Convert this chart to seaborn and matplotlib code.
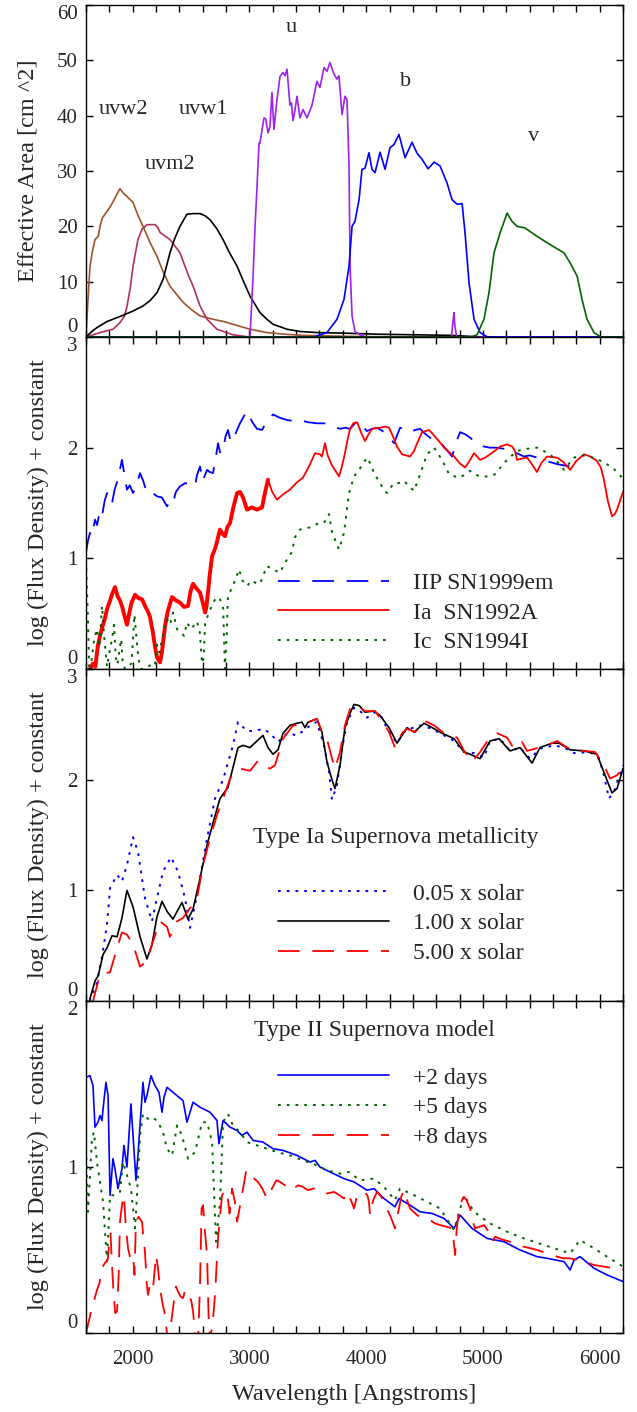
import numpy as np
import pandas as pd
import matplotlib
matplotlib.use("Agg")
import matplotlib.pyplot as plt
from matplotlib.ticker import NullFormatter
import seaborn as sns

# ---------------- data : panel 1 (effective area, cm^2) ----------------
uvw2_wl = [1600, 1615, 1634, 1655, 1677, 1705, 1720, 1740, 1763, 1800, 1831, 1860, 1891, 1920, 1951, 2003, 2045, 2088,
           2150, 2208, 2260, 2319, 2380, 2431, 2500, 2577, 2688, 2780, 2859, 2940, 3005, 3080, 3150, 3300, 3450, 3650, 3900, 4300, 6200]
uvw2_area = [0.0, 6.0, 12.7, 15.5, 17.6, 18.2, 20.0, 21.5, 22.2, 23.3, 24.4, 25.6, 26.8, 26.0, 25.4, 24.3, 22.0, 20.0,
             17.0, 14.6, 11.8, 9.2, 7.6, 6.3, 5.0, 3.8, 3.2, 2.8, 2.3, 1.8, 1.4, 1.1, 0.8, 0.5, 0.3, 0.2, 0.1, 0.0, 0.0]

uvm2_wl = [1600, 1720, 1831, 1891, 1930, 1951, 1980, 2003, 2045, 2080, 2122, 2191, 2215, 2234, 2280, 2319, 2360, 2405,
           2448, 2480, 2517, 2577, 2637, 2722, 2859, 3000, 6200]
uvm2_area = [0.0, 0.8, 1.4, 2.6, 3.8, 5.5, 9.0, 12.8, 17.6, 19.5, 20.3, 20.3, 19.8, 18.9, 18.2, 17.6, 16.5, 15.2,
             12.8, 11.0, 9.2, 5.6, 3.2, 1.4, 0.4, 0.0, 0.0]

uvw1_wl = [1600, 1650, 1694, 1780, 1891, 2003, 2088, 2150, 2208, 2260, 2319, 2360, 2405, 2465, 2520, 2577, 2620, 2662,
           2720, 2774, 2830, 2894, 2950, 3005, 3091, 3150, 3202, 3322, 3433, 3578, 3800, 4100, 4400, 4720, 5000, 6200]
uvw1_area = [0.0, 1.0, 1.7, 2.8, 3.7, 4.7, 5.6, 6.6, 8.0, 10.4, 15.2, 17.8, 20.0, 22.2, 22.3, 22.3, 21.9, 21.2,
             19.6, 17.6, 15.2, 12.8, 10.0, 7.4, 4.4, 3.2, 2.3, 1.4, 1.0, 0.8, 0.7, 0.5, 0.4, 0.3, 0.0, 0.0]

u_wl = [1600, 2990, 3005, 3031, 3048, 3065, 3082, 3090, 3108, 3125, 3140, 3159, 3176, 3193, 3210, 3236, 3262, 3288, 3305,
        3322, 3347, 3360, 3373, 3390, 3407, 3433, 3459, 3493, 3536, 3578, 3604, 3639, 3664, 3690, 3724, 3750, 3767,
        3793, 3818, 3836, 3853, 3862, 3879, 3904, 3947, 4000, 4730, 4745, 4752, 4760, 4775, 6200]
u_area = [0.0, 0.0, 0.0, 11.0, 20.0, 27.2, 35.0, 35.0, 37.5, 39.6, 39.4, 36.9, 38.0, 44.2, 37.5, 42.9, 47.1, 47.8, 47.2,
          48.4, 41.9, 42.3, 39.1, 41.0, 43.5, 39.6, 41.1, 39.6, 41.9, 46.2, 45.1, 48.7, 48.0, 49.6, 47.5, 46.6, 47.2,
          40.2, 43.5, 42.9, 30.9, 12.8, 3.8, 1.0, 0.4, 0.0, 0.0, 3.0, 4.4, 2.0, 0.0, 0.0]

b_wl = [1600, 3550, 3664, 3750, 3810, 3853, 3879, 3904, 3939, 3964, 3990, 4024, 4050, 4076, 4119, 4162, 4204, 4239, 4281,
        4333, 4393, 4436, 4479, 4530, 4582, 4633, 4693, 4736, 4779, 4822, 4847, 4881, 4924, 4976, 5040, 6200]
b_area = [0.0, 0.0, 0.8, 3.2, 6.8, 12.8, 20.0, 20.9, 24.8, 30.3, 30.5, 33.3, 30.3, 29.7, 33.4, 30.3, 34.2, 34.8, 36.6,
          32.4, 35.2, 33.2, 32.1, 30.4, 31.6, 30.9, 27.8, 24.8, 24.0, 24.1, 18.8, 9.8, 3.2, 0.8, 0.0, 0.0]

v_wl = [1600, 4900, 4950, 5009, 5052, 5095, 5147, 5207, 5249, 5292, 5361, 5463, 5575, 5695, 5747, 5807, 5849, 5892, 5952, 6010, 6200]
v_area = [0.0, 0.0, 0.4, 3.2, 8.0, 15.2, 18.8, 22.4, 20.9, 20.0, 19.7, 18.2, 16.7, 15.2, 13.4, 11.0, 6.8, 3.2, 0.8, 0.0, 0.0]

filter_names = ["uvw2", "uvm2", "uvw1", "u", "b", "v"]
filter_label_wl = [1917, 2320, 2602, 3356, 4341, 5438]
filter_label_area = [41.1, 31.2, 41.1, 56.0, 46.2, 36.3]

# ---------------- data : panel 2 (observed spectra) ----------------
iip_wl = [1600, 1615, 1634, 1650, 1677, 1695, 1720, 1740, 1760, 1780, 1800, 1823, 1845, 1866, 1890, 1908, 1930, 1951,
          1975, 2003, 2030, 2063, 2090, 2122, 2160, 2208, 2250, 2294, 2320, 2345, 2370, 2405, 2450, 2491, 2534, 2550,
          2577, 2600, 2637, 2660, 2688, 2710, 2731, 2750, 2774, 2795, 2816, 2840, 2859, 2890, 2919, 2950, 2979, 3000,
          3031, 3065, 3108, 3150, 3202, 3260, 3322, 3380, 3433, 3500, 3578, 3640, 3690, 3730, 3776, 3820, 3862, 3922,
          3960, 4007, 4050, 4093, 4140, 4179, 4239, 4290, 4330, 4376, 4420, 4462, 4500, 4547, 4590, 4633, 4690, 4736,
          4770, 4805, 4850, 4890, 4950, 5009, 5060, 5121, 5180, 5232, 5290, 5352, 5400, 5463, 5520, 5575, 5640, 5695, 5747]
iip_flux = [1.05, 1.15, 1.23, 1.20, 1.35, 1.30, 1.44, 1.40, 1.52, 1.59, 1.50, 1.50, 1.62, 1.69, 1.80, 1.89, 1.75, 1.62,
            1.66, 1.59, 1.65, 1.77, 1.70, 1.59, 1.60, 1.56, 1.55, 1.47, 1.52, 1.50, 1.60, 1.65, 1.68, 1.67, 1.65, 1.75,
            1.83, 1.70, 1.80, 1.78, 1.77, 1.90, 2.04, 1.95, 1.98, 2.10, 2.16, 2.05, 2.07, 2.15, 2.22, 2.28, 2.33, 2.28,
            2.22, 2.17, 2.16, 2.24, 2.30, 2.27, 2.25, 2.24, 2.25, 2.23, 2.22, 2.22, 2.21, 2.19, 2.17, 2.18, 2.17, 2.24,
            2.20, 2.15, 2.17, 2.18, 2.15, 2.12, 2.04, 2.18, 2.17, 2.14, 2.16, 2.17, 2.13, 2.09, 2.08, 2.05, 1.98, 1.92,
            2.05, 2.14, 2.12, 2.09, 2.04, 2.01, 2.00, 2.00, 1.99, 1.98, 1.95, 1.92, 1.93, 1.91, 1.89, 1.87, 1.85, 1.84, 1.83]

ia_wl = [1620, 1634, 1660, 1680, 1700, 1720, 1740, 1760, 1780, 1800, 1825, 1848, 1870, 1890, 1908, 1930, 1951, 1970,
         1990, 2020, 2050, 2080, 2110, 2130, 2148, 2170, 2191, 2210, 2234, 2250, 2277, 2300, 2337, 2370, 2405, 2440,
         2474, 2495, 2517, 2545, 2577, 2600, 2620, 2630, 2645, 2660, 2680, 2710, 2748, 2770, 2791, 2810, 2834, 2860,
         2894, 2919, 2945, 2979, 3020, 3065, 3108, 3135, 3159, 3195, 3236, 3290, 3347, 3400, 3459, 3510, 3562, 3604,
         3621, 3647, 3670, 3707, 3767, 3790, 3818, 3840, 3862, 3890, 3922, 3955, 3990, 4020, 4050, 4119, 4160, 4196,
         4230, 4264, 4307, 4340, 4376, 4410, 4436, 4479, 4539, 4590, 4630, 4667, 4710, 4753, 4800, 4847, 4885, 4924,
         4950, 4976, 5020, 5061, 5100, 5147, 5207, 5250, 5275, 5292, 5330, 5378, 5420, 5463, 5500, 5549, 5635, 5690,
         5747, 5800, 5866, 5920, 5977, 6010, 6037, 6070, 6106, 6130, 6149, 6200]
ia_flux = [-0.10, 0.00, 0.05, 0.02, 0.20, 0.30, 0.38, 0.45, 0.54, 0.60, 0.68, 0.74, 0.66, 0.62, 0.57, 0.48, 0.40, 0.50,
           0.60, 0.67, 0.64, 0.63, 0.56, 0.52, 0.47, 0.35, 0.20, 0.10, 0.06, 0.15, 0.39, 0.52, 0.65, 0.62, 0.60, 0.56,
           0.57, 0.70, 0.77, 0.73, 0.69, 0.60, 0.51, 0.55, 0.69, 0.85, 1.02, 1.10, 1.26, 1.22, 1.20, 1.28, 1.32, 1.45,
           1.59, 1.60, 1.55, 1.44, 1.46, 1.44, 1.46, 1.60, 1.71, 1.60, 1.53, 1.58, 1.62, 1.68, 1.73, 1.83, 1.95, 1.94,
           1.92, 2.04, 1.93, 1.84, 1.74, 1.82, 1.95, 2.07, 2.17, 2.22, 2.23, 2.14, 2.06, 2.12, 2.17, 2.18, 2.19, 2.18,
           2.10, 2.01, 1.94, 1.93, 1.92, 1.97, 2.04, 2.14, 2.16, 2.10, 2.05, 2.00, 1.96, 1.92, 1.86, 1.82, 1.88, 1.95,
           1.92, 1.89, 1.91, 1.94, 1.97, 2.01, 2.03, 2.01, 1.97, 1.89, 1.90, 1.91, 1.85, 1.78, 1.86, 1.92, 1.91, 1.87,
           1.80, 1.88, 1.94, 1.92, 1.88, 1.82, 1.71, 1.52, 1.38, 1.40, 1.44, 1.60]

ic_wl = [1600, 1615, 1630, 1650, 1670, 1694, 1715, 1737, 1755, 1780, 1800, 1823, 1840, 1855, 1870, 1890, 1902, 1915,
         1935, 1960, 1990, 2015, 2035, 2050, 2070, 2100, 2130, 2160, 2190, 2208, 2230, 2251, 2270, 2294, 2320, 2345,
         2380, 2410, 2440, 2465, 2500, 2530, 2551, 2575, 2594, 2608, 2620, 2650, 2688, 2720, 2748, 2775, 2790, 2805,
         2816, 2859, 2911, 2940, 2979, 3020, 3050, 3091, 3120, 3150, 3202, 3262, 3300, 3322, 3365, 3390, 3433, 3480,
         3519, 3578, 3639, 3682, 3707, 3740, 3767, 3810, 3853, 3896, 3939, 4007, 4040, 4067, 4119, 4150, 4179, 4210,
         4239, 4280, 4324, 4370, 4410, 4462, 4522, 4582, 4650, 4710, 4760, 4805, 4850, 4890, 4930, 4976, 5040, 5104,
         5150, 5207, 5292, 5380, 5463, 5520, 5575, 5640, 5695, 5740, 5781, 5850, 5918, 5990, 6063, 6130, 6200]
ic_flux = [0.99, 0.50, -0.10, 0.10, 0.27, 0.36, 0.20, 0.57, 0.30, 0.02, 0.15, 0.27, 0.40, 0.10, 0.04, 0.20, 0.27, 0.05,
           0.00, 0.02, 0.05, 0.49, 0.25, 0.09, 0.00, 0.00, 0.02, 0.04, 0.03, 0.22, 0.15, 0.27, 0.35, 0.45, 0.40, 0.51,
           0.36, 0.33, 0.30, 0.42, 0.36, 0.40, 0.43, 0.33, 0.05, 0.10, 0.42, 0.50, 0.60, 0.65, 0.63, 0.55, 0.00, 0.30,
           0.66, 0.75, 0.90, 0.80, 0.75, 0.80, 0.78, 0.77, 0.85, 0.93, 0.90, 0.87, 0.95, 0.99, 1.06, 1.19, 1.26, 1.27,
           1.28, 1.31, 1.32, 1.40, 1.24, 1.15, 1.08, 1.23, 1.59, 1.74, 1.80, 1.91, 1.85, 1.77, 1.68, 1.62, 1.59, 1.64,
           1.68, 1.68, 1.70, 1.65, 1.61, 1.76, 1.94, 2.00, 1.89, 1.76, 1.74, 1.73, 1.76, 1.79, 1.76, 1.74, 1.74, 1.76,
           1.82, 1.89, 1.97, 1.99, 2.00, 1.97, 1.94, 1.87, 1.80, 1.86, 1.91, 1.93, 1.92, 1.89, 1.85, 1.80, 1.72]

# ---------------- data : panel 3 (Type Ia metallicity models) ----------------
z005_wl = [1630, 1690, 1737, 1780, 1806, 1866, 1908, 1951, 2003, 2045, 2105, 2165, 2208, 2260, 2328, 2388, 2448, 2491,
           2534, 2577, 2637, 2705, 2774, 2859, 2902, 2979, 3048, 3116, 3176, 3245, 3322, 3407, 3459, 3545, 3578, 3639,
           3682, 3707, 3750, 3793, 3836, 3896, 3947, 4007, 4076, 4136, 4179, 4264, 4324, 4376, 4462, 4565, 4667, 4753,
           4838, 4924, 5009, 5061, 5147, 5232, 5318, 5403, 5489, 5609, 5695, 5781, 5918, 5995, 6037, 6080, 6123, 6200]
z005_flux = [0.00, 0.15, 0.40, 0.69, 1.02, 1.14, 1.08, 1.23, 1.48, 1.35, 0.93, 0.72, 0.93, 1.17, 1.30, 1.17, 0.93, 0.66,
             0.87, 1.11, 1.47, 1.83, 2.00, 2.31, 2.52, 2.44, 2.44, 2.46, 2.42, 2.34, 2.42, 2.40, 2.44, 2.51, 2.52, 2.31,
             2.07, 1.82, 1.95, 2.28, 2.52, 2.65, 2.62, 2.56, 2.61, 2.56, 2.46, 2.33, 2.43, 2.46, 2.49, 2.46, 2.40, 2.35,
             2.25, 2.24, 2.20, 2.35, 2.37, 2.26, 2.29, 2.19, 2.28, 2.31, 2.29, 2.24, 2.25, 2.19, 2.04, 1.83, 1.89, 2.13]

z100_wl = [1634, 1677, 1705, 1746, 1780, 1823, 1866, 1908, 1951, 2003, 2063, 2122, 2165, 2208, 2251, 2294, 2345, 2422,
           2474, 2517, 2577, 2637, 2688, 2748, 2816, 2859, 2902, 2945, 3005, 3065, 3116, 3159, 3202, 3245, 3288, 3347,
           3407, 3450, 3476, 3502, 3578, 3621, 3664, 3707, 3733, 3776, 3818, 3862, 3896, 3939, 3990, 4067, 4119, 4196,
           4264, 4307, 4350, 4410, 4496, 4565, 4650, 4753, 4838, 4890, 4976, 5061, 5138, 5232, 5318, 5421, 5489, 5592,
           5652, 5747, 5866, 5977, 6046, 6106, 6149, 6200]
z100_flux = [0.02, 0.18, 0.23, 0.42, 0.48, 0.59, 0.58, 0.75, 1.00, 0.85, 0.58, 0.38, 0.51, 0.76, 0.90, 0.81, 0.74, 0.89,
             0.74, 0.83, 1.11, 1.41, 1.61, 1.83, 1.93, 2.11, 2.29, 2.31, 2.29, 2.35, 2.40, 2.29, 2.23, 2.27, 2.42, 2.49,
             2.51, 2.52, 2.47, 2.52, 2.55, 2.43, 2.16, 2.00, 1.92, 2.13, 2.47, 2.60, 2.68, 2.67, 2.61, 2.62, 2.58, 2.47,
             2.33, 2.40, 2.47, 2.43, 2.51, 2.47, 2.42, 2.37, 2.25, 2.23, 2.19, 2.35, 2.37, 2.26, 2.29, 2.15, 2.29, 2.33,
             2.33, 2.27, 2.26, 2.23, 2.04, 1.88, 1.92, 2.10]

z500_wl = [1660, 1720, 1806, 1866, 1908, 1951, 2003, 2063, 2122, 2174, 2234, 2294, 2319, 2380, 2431, 2491, 2551, 2603,
           2662, 2722, 2774, 2834, 2919, 3005, 3073, 3116, 3176, 3219, 3288, 3373, 3459, 3578, 3621, 3664, 3707, 3733,
           3776, 3818, 3862, 3922, 3990, 4076, 4136, 4196, 4247, 4307, 4350, 4419, 4505, 4582, 4667, 4779, 4838, 4907,
           4976, 5052, 5121, 5207, 5266, 5335, 5378, 5480, 5549, 5635, 5721, 5866, 5960, 6037, 6089, 6149, 6200]
z500_flux = [0.00, 0.24, 0.26, 0.48, 0.62, 0.60, 0.51, 0.31, 0.36, 0.54, 0.72, 0.67, 0.58, 0.72, 0.75, 0.84, 0.93, 1.23,
             1.47, 1.68, 1.83, 2.01, 2.10, 2.08, 2.17, 2.13, 2.10, 2.13, 2.37, 2.49, 2.50, 2.55, 2.43, 2.37, 2.19, 2.10,
             2.25, 2.49, 2.64, 2.67, 2.62, 2.62, 2.53, 2.43, 2.29, 2.42, 2.46, 2.43, 2.53, 2.49, 2.42, 2.38, 2.26, 2.16,
             2.25, 2.37, 2.42, 2.38, 2.28, 2.34, 2.26, 2.29, 2.31, 2.35, 2.29, 2.26, 2.25, 2.13, 2.01, 2.04, 2.11]

# ---------------- data : panel 4 (Type II model) ----------------
d2_wl = [1600, 1634, 1660, 1677, 1703, 1720, 1737, 1746, 1771, 1789, 1806, 1831, 1848, 1874, 1908, 1925, 1951, 1985,
         2003, 2028, 2045, 2088, 2105, 2122, 2157, 2191, 2225, 2251, 2268, 2294, 2345, 2431, 2465, 2517, 2577, 2662,
         2722, 2739, 2774, 2834, 2894, 2936, 2979, 3031, 3116, 3202, 3288, 3407, 3519, 3562, 3604, 3690, 3810, 3896,
         4007, 4067, 4153, 4247, 4281, 4376, 4462, 4565, 4667, 4753, 4805, 4907, 5035, 5181, 5318, 5463, 5549, 5695,
         5747, 5781, 5832, 5952, 6063, 6200]
d2_flux = [1.54, 1.55, 1.49, 1.24, 1.27, 1.31, 1.28, 1.35, 1.51, 1.43, 0.83, 1.05, 0.99, 0.87, 0.99, 1.13, 1.00, 1.38,
           1.19, 0.92, 1.07, 1.51, 1.39, 1.43, 1.55, 1.49, 1.45, 1.33, 1.42, 1.48, 1.45, 1.40, 1.27, 1.39, 1.36, 1.33,
           1.28, 1.14, 1.28, 1.24, 1.22, 1.19, 1.21, 1.16, 1.15, 1.11, 1.10, 1.07, 1.03, 1.04, 1.00, 0.97, 0.93, 0.91,
           0.86, 0.87, 0.81, 0.76, 0.81, 0.77, 0.73, 0.72, 0.69, 0.63, 0.71, 0.63, 0.57, 0.55, 0.50, 0.46, 0.45, 0.43,
           0.38, 0.44, 0.46, 0.39, 0.35, 0.31]

d5_wl = [1600, 1617, 1651, 1668, 1694, 1720, 1746, 1780, 1806, 1848, 1891, 1917, 1951, 1985, 2020, 2037, 2063, 2088,
         2131, 2174, 2217, 2260, 2294, 2337, 2380, 2422, 2474, 2534, 2594, 2637, 2680, 2714, 2748, 2774, 2816, 2859,
         2919, 2979, 3065, 3150, 3236, 3347, 3459, 3578, 3664, 3776, 3853, 3947, 4067, 4153, 4247, 4290, 4410, 4522,
         4633, 4753, 4838, 4924, 5061, 5207, 5352, 5523, 5747, 5832, 5952, 6063, 6200]
d5_flux = [1.11, 0.73, 1.17, 1.21, 1.03, 0.91, 0.79, 0.43, 0.83, 0.83, 0.85, 1.03, 0.95, 0.87, 0.63, 0.83, 1.19, 1.32,
           1.29, 1.30, 1.27, 1.21, 1.11, 1.07, 1.25, 1.19, 1.05, 1.09, 1.27, 1.27, 1.15, 0.55, 0.79, 1.27, 1.32, 1.25,
           1.21, 1.15, 1.13, 1.11, 1.09, 1.07, 1.04, 1.01, 0.98, 0.96, 0.97, 0.92, 0.93, 0.88, 0.80, 0.87, 0.83, 0.79,
           0.75, 0.62, 0.83, 0.73, 0.66, 0.61, 0.57, 0.53, 0.48, 0.56, 0.51, 0.46, 0.40]

d8_wl = [1600, 1620, 1640, 1660, 1690, 1715, 1737, 1760, 1786, 1800, 1810, 1820, 1835, 1850, 1866, 1880, 1891, 1910,
         1925, 1940, 1960, 1980, 2003, 2015, 2028, 2050, 2080, 2095, 2105, 2120, 2131, 2150, 2174, 2200, 2215, 2234,
         2255, 2277, 2300, 2319, 2345, 2370, 2388, 2410, 2431, 2450, 2474, 2500, 2517, 2540, 2560, 2577, 2590, 2603,
         2620, 2637, 2650, 2663, 2690, 2705, 2731, 2765, 2790, 2808, 2830, 2851, 2876, 2894, 2915, 2936, 2970, 3005,
         3040, 3073, 3110, 3150, 3193, 3230, 3262, 3305, 3340, 3373, 3420, 3459, 3500, 3545, 3578, 3620, 3664, 3724,
         3770, 3810, 3836, 3870, 3896, 3922, 3950, 3981, 4010, 4024, 4033, 4060, 4093, 4130, 4162, 4210, 4247, 4265,
         4281, 4300, 4324, 4350, 4376, 4436, 4490, 4547, 4590, 4633, 4690, 4736, 4750, 4762, 4775, 4796, 4820, 4838,
         4860, 4890, 4910, 4933, 4970, 5009, 5040, 5078, 5105, 5138, 5180, 5232, 5290, 5352, 5410, 5463, 5550, 5635,
         5690, 5747, 5800, 5866, 5950, 6037, 6120, 6200]
d8_flux = [0.00, 0.06, 0.12, 0.17, 0.25, 0.30, 0.39, 0.42, 0.44, 0.55, 0.60, 0.45, 0.25, 0.12, 0.13, 0.35, 0.67, 0.78,
           0.83, 0.65, 0.51, 0.45, 0.47, 0.35, 0.67, 0.70, 0.67, 0.55, 0.49, 0.30, 0.23, 0.30, 0.27, 0.47, 0.40, 0.27,
           0.18, 0.11, -0.05, 0.00, 0.15, 0.28, 0.25, 0.22, 0.21, 0.26, 0.22, 0.20, 0.13, -0.05, -0.05, 0.30, 0.75, 0.77,
           0.60, 0.47, 0.10, -0.05, 0.10, 0.23, 0.57, 0.83, 0.86, 0.85, 0.72, 0.87, 0.79, 0.67, 0.75, 0.83, 0.97, 0.92,
           0.93, 0.91, 0.87, 0.81, 0.87, 0.92, 0.91, 0.89, 0.86, 0.87, 0.89, 0.88, 0.86, 0.87, 0.87, 0.86, 0.84, 0.85,
           0.83, 0.81, 0.85, 0.80, 0.75, 0.83, 0.84, 0.85, 0.83, 0.79, 0.71, 0.80, 0.85, 0.82, 0.77, 0.70, 0.63, 0.70,
           0.75, 0.82, 0.86, 0.80, 0.75, 0.71, 0.69, 0.68, 0.66, 0.65, 0.64, 0.63, 0.55, 0.47, 0.62, 0.75, 0.80, 0.82,
           0.80, 0.75, 0.68, 0.63, 0.64, 0.65, 0.62, 0.55, 0.58, 0.57, 0.56, 0.55, 0.53, 0.52, 0.51, 0.50, 0.48, 0.46,
           0.45, 0.45, 0.44, 0.43, 0.41, 0.40, 0.39, 0.38]

x_ticks = [2000, 3000, 4000, 5000, 6000]

# ---------------- style ----------------
sns.set_style("ticks")
TXT = "#262626"
plt.rcParams["font.family"] = ["Liberation Serif", "DejaVu Serif"]
plt.rcParams["text.color"] = TXT
plt.rcParams["axes.labelcolor"] = TXT
plt.rcParams["xtick.color"] = "black"
plt.rcParams["ytick.color"] = "black"
plt.rcParams["xtick.labelcolor"] = TXT
plt.rcParams["ytick.labelcolor"] = TXT
plt.rcParams["axes.edgecolor"] = "black"
plt.rcParams["axes.linewidth"] = 1.0

TICK_FS = 15
LAB_FS = 17.5
LEG_FS = 17

fig = plt.figure(figsize=(6.37, 14.12), dpi=100)
gs = fig.add_gridspec(4, 1, left=86/637, right=623/637, top=1 - 5/1412, bottom=(1412 - 1333)/1412, hspace=0)
axes = [fig.add_subplot(gs[i]) for i in range(4)]

DASH = (0, (12, 7))
DOT = (0, (1.4, 3.1))
LEG_KW = dict(loc="upper left", frameon=False, fontsize=LEG_FS, handlelength=4.7, handletextpad=1.0,
              labelspacing=0.35, borderpad=0, borderaxespad=0)


def draw(ax, x, y, color, ls="-", lw=1.2, label=None):
    df = pd.DataFrame({"wl": x, "val": y})
    sns.lineplot(data=df, x="wl", y="val", ax=ax, color=color, linestyle=ls, linewidth=lw,
                 label=label, sort=False, estimator=None, legend=False if label is None else "auto")


# panel 1
ax = axes[0]
for wl, area, col in [(uvw2_wl, uvw2_area, "#a0522d"), (uvm2_wl, uvm2_area, "#b03060"),
                      (uvw1_wl, uvw1_area, "black"), (u_wl, u_area, "#a020f0"),
                      (b_wl, b_area, "#0000ff"), (v_wl, v_area, "#006400")]:
    draw(ax, wl, area, col, lw=1.2)
for name, lx, ly in zip(filter_names, filter_label_wl, filter_label_area):
    ax.text(lx, ly, name, ha="center", va="center", fontsize=16, color=TXT)
ax.set_ylim(0, 60)
ax.set_yticks(range(0, 61, 10))
ax.set_ylabel("Effective Area [cm ^2]", fontsize=LAB_FS, labelpad=13)

# panel 2
ax = axes[1]
draw(ax, iip_wl, iip_flux, "#0000ff", DASH, 1.3, "IIP SN1999em")
draw(ax, ia_wl, ia_flux, "#ff0000", "-", 1.3, "Ia  SN1992A")
ia_df = pd.DataFrame({"wl": ia_wl, "val": ia_flux})
noisy = ia_df[ia_df["wl"] <= 3170]
sns.lineplot(data=noisy, x="wl", y="val", ax=ax, color="#ff0000", linewidth=2.8, sort=False,
             estimator=None, legend=False)
draw(ax, ic_wl, ic_flux, "#006400", DOT, 1.4, "Ic  SN1994I")
ax.set_ylim(0, 3)
ax.set_yticks([0, 1, 2, 3])
ax.set_ylabel("log (Flux Density) + constant", fontsize=LAB_FS, labelpad=13)
h, l = ax.get_legend_handles_labels()
ax.legend(h, l, bbox_to_anchor=(0.3575, 0.291), **LEG_KW)

# panel 3
ax = axes[2]
draw(ax, z005_wl, z005_flux, "#0000ff", DOT, 1.4, "0.05 x solar")
draw(ax, z100_wl, z100_flux, "black", "-", 1.2, "1.00 x solar")
draw(ax, z500_wl, z500_flux, "#ff0000", DASH, 1.3, "5.00 x solar")
ax.text(0.577, 0.491, "Type Ia Supernova metallicity", transform=ax.transAxes, ha="center", va="center",
        fontsize=LEG_FS, color=TXT)
ax.set_ylim(0, 3)
ax.set_yticks([0, 1, 2, 3])
ax.set_ylabel("log (Flux Density) + constant", fontsize=LAB_FS, labelpad=13)
h, l = ax.get_legend_handles_labels()
ax.legend(h, l, bbox_to_anchor=(0.3575, 0.355), **LEG_KW)

# panel 4
ax = axes[3]
draw(ax, d2_wl, d2_flux, "#0000ff", "-", 1.2, "+2 days")
draw(ax, d5_wl, d5_flux, "#006400", DOT, 1.4, "+5 days")
draw(ax, d8_wl, d8_flux, "#ff0000", DASH, 1.3, "+8 days")
ax.text(0.538, 0.912, "Type II Supernova model", transform=ax.transAxes, ha="center", va="center",
        fontsize=LEG_FS, color=TXT)
ax.set_ylim(0, 2)
ax.set_yticks([0, 1, 2])
ax.set_ylabel("log (Flux Density) + constant", fontsize=LAB_FS, labelpad=13)
h, l = ax.get_legend_handles_labels()
ax.legend(h, l, bbox_to_anchor=(0.3575, 0.801), **LEG_KW)
ax.set_xlabel("Wavelength [Angstroms]", fontsize=LAB_FS, labelpad=11)

for i, ax in enumerate(axes):
    ax.set_xlim(1600, 6200)
    ax.set_xticks(x_ticks)
    ax.set_xticks(range(1600, 6201, 200), minor=True)
    ax.tick_params(axis="both", which="both", direction="in", top=True, right=True, length=5, width=1.0)
    ax.tick_params(axis="y", labelsize=TICK_FS, pad=6)
    ax.tick_params(axis="x", labelsize=TICK_FS, pad=12)
    if i < 3:
        ax.tick_params(axis="x", labelbottom=False)
        ax.xaxis.set_major_formatter(NullFormatter())
        ax.set_xlabel("")
    for s in ax.spines.values():
        s.set_visible(True)
        s.set_linewidth(1.0)

fig.canvas.draw()
for ax in axes:
    labels = ax.get_yticklabels()
    labels[0].set_va("bottom")
    labels[-1].set_va("top")

fig.savefig("out.png", dpi=100)
